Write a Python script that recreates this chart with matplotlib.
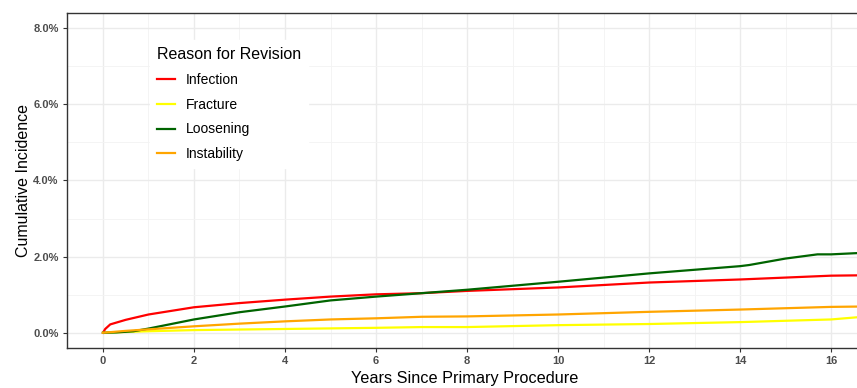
import matplotlib
matplotlib.use("Agg")
import matplotlib.pyplot as plt
from matplotlib.ticker import MultipleLocator, FuncFormatter

plt.rcParams['font.family'] = ['Liberation Sans', 'DejaVu Sans']

# Years since primary procedure and cumulative incidence (%)
years_inf = [0, 0.05, 0.16, 0.5, 1, 2, 3, 4, 5, 6, 7, 8, 10, 12, 14, 16, 16.7]
infection = [0, 0.10, 0.22, 0.34, 0.48, 0.67, 0.78, 0.87, 0.95, 1.01, 1.04, 1.10, 1.19, 1.32, 1.40, 1.50, 1.51]

years_frac = [0, 0.5, 1, 2, 4, 6, 7, 8, 10, 12, 14, 16, 16.7]
fracture = [0, 0.02, 0.04, 0.07, 0.10, 0.13, 0.15, 0.15, 0.20, 0.23, 0.28, 0.35, 0.42]

years_loos = [0, 0.3, 0.67, 1, 2, 3, 4, 5, 6, 7, 8, 10, 12, 14, 14.2, 15, 15.7, 16, 16.7]
loosening = [0, 0.01, 0.04, 0.11, 0.35, 0.54, 0.69, 0.85, 0.95, 1.04, 1.13, 1.34, 1.56, 1.75, 1.78, 1.95, 2.06, 2.06, 2.10]

years_inst = [0, 0.5, 1, 2, 3, 4, 5, 6, 7, 8, 10, 12, 14, 16, 16.7]
instability = [0, 0.05, 0.09, 0.17, 0.24, 0.30, 0.35, 0.38, 0.42, 0.43, 0.48, 0.55, 0.61, 0.68, 0.69]

series = [
    ("Infection", years_inf, infection, "#FF0000"),
    ("Fracture", years_frac, fracture, "#FFFF00"),
    ("Loosening", years_loos, loosening, "#006400"),
    ("Instability", years_inst, instability, "#FFA500"),
]

x_ticks = [0, 2, 4, 6, 8, 10, 12, 14, 16]
y_ticks = [0, 2, 4, 6, 8]

fig = plt.figure(figsize=(8.57, 3.88), dpi=100)
ax = fig.add_axes([67/857, 40/388, 796/857, 335/388])

for name, xs, ys, c in series:
    ax.plot(xs, ys, color=c, lw=1.6, label=name, solid_joinstyle='round')

ax.set_xlim(-0.79, 16.7)
ax.set_ylim(-0.4, 8.4)
ax.set_xticks(x_ticks)
ax.set_yticks(y_ticks)
ax.xaxis.set_minor_locator(MultipleLocator(1))
ax.yaxis.set_minor_locator(MultipleLocator(1))
ax.yaxis.set_major_formatter(FuncFormatter(lambda v, p: f"{v:.1f}%"))

ax.grid(which='major', color='#EBEBEB', lw=1.0)
ax.grid(which='minor', color='#F3F3F3', lw=0.6)
ax.set_axisbelow(True)
ax.tick_params(which='minor', length=0)
ax.tick_params(which='major', length=3, width=0.8, color='#333333',
               labelsize=8, labelcolor='#4D4D4D', pad=3)
for lab in ax.get_xticklabels() + ax.get_yticklabels():
    lab.set_fontweight('bold')
for sp in ax.spines.values():
    sp.set_color('#333333')
    sp.set_linewidth(1.0)

ax.set_xlabel("Years Since Primary Procedure", fontsize=11.7, labelpad=3)
ax.set_ylabel("Cumulative Incidence", fontsize=11.5, labelpad=2)

leg = ax.legend(title="Reason for Revision", loc='upper left',
                bbox_to_anchor=(0.096, 0.94), frameon=True, fancybox=False,
                edgecolor='white', facecolor='white', framealpha=1,
                fontsize=10, title_fontsize=11.5, handlelength=1.3,
                labelspacing=0.78, borderpad=0.5, handletextpad=0.75)
leg._legend_box.align = "left"
for line in leg.get_lines():
    line.set_linewidth(1.6)

fig.savefig("out.png", dpi=100)
